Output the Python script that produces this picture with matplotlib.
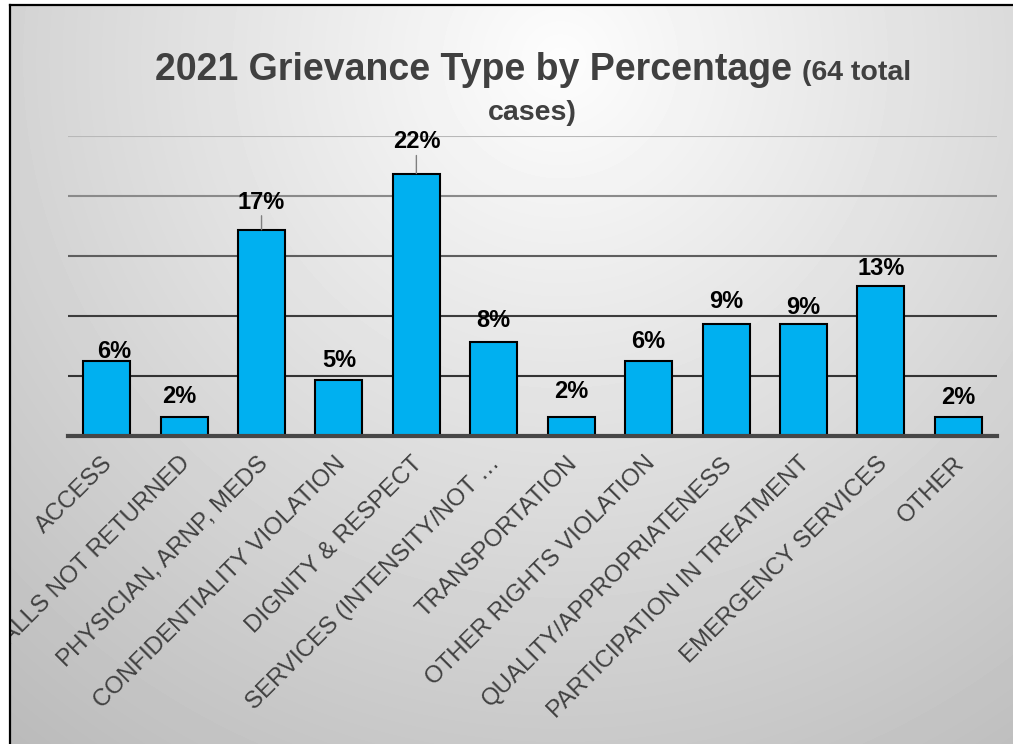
import numpy as np
import matplotlib
matplotlib.use("Agg")
import matplotlib.pyplot as plt
from matplotlib.patches import Rectangle
from matplotlib.lines import Line2D

plt.rcParams['font.family'] = ['Liberation Sans', 'DejaVu Sans']

# data
categories = ['ACCESS', 'CALLS NOT RETURNED', 'PHYSICIAN, ARNP, MEDS',
              'CONFIDENTIALITY VIOLATION', 'DIGNITY & RESPECT',
              'SERVICES (INTENSITY/NOT \u2026', 'TRANSPORTATION',
              'OTHER RIGHTS VIOLATION', 'QUALITY/APPROPRIATENESS',
              'PARTICIPATION IN TREATMENT', 'EMERGENCY SERVICES', 'OTHER']
cases = [4, 1, 11, 3, 14, 5, 1, 4, 6, 6, 8, 1]
total_cases = 64
percent = [100.0 * c / total_cases for c in cases]

# hand-placed data label offsets (pixels) and which ones have leader lines
label_dx = [7, -5, 0, 0, 0, 0, 0, 0, 0, 0, 0, 0]
label_gap = [3, 14, 21, 13, 25, 15, 19, 13, 15, 10, 11, 13]
leader = [False, False, True, False, True, False, False, False, False, False, False, False]

W, H = 1013, 744
fig = plt.figure(figsize=(W / 100, H / 100), dpi=100)
fig.patch.set_facecolor('white')

# slide background: soft radial gradient
bg = fig.add_axes([0, 0, 1, 1], zorder=-1)
yy, xx = np.mgrid[0:H, 0:W]
dist = np.hypot(xx - 560, yy - 60)
shade = np.clip(253 - 0.076 * dist, 180, 255) / 255.0
bg.imshow(shade, cmap='gray', vmin=0, vmax=1, extent=(0, W, H, 0), aspect='auto')
bg.set_xlim(0, W)
bg.set_ylim(H, 0)
bg.axis('off')

# main chart
left, right, top, bottom = 68, 997, 136, 436
ax = fig.add_axes([left / W, 1 - bottom / H, (right - left) / W, (bottom - top) / H])
ax.set_facecolor('none')
x = np.arange(len(categories))
ax.bar(x, percent, width=0.607, color='#00B0F0', edgecolor='black', linewidth=1.5, zorder=3)
ax.set_xlim(-0.5, len(categories) - 0.5)
ax.set_ylim(0, 25)
ax.set_yticks([0, 5, 10, 15, 20, 25])
ax.yaxis.grid(True, linewidth=1.5, zorder=0)
ax.set_axisbelow(True)
grid_colors = ['none', '#333333', '#3c3c3c', '#5e5e5e', '#8a8a8a', '#b8b8b8']
for gl, c in zip(ax.yaxis.get_gridlines(), grid_colors):
    gl.set_color(c)
ax.tick_params(left=False, labelleft=False, bottom=False, labelbottom=False)
for s in ['left', 'right', 'top']:
    ax.spines[s].set_visible(False)
ax.spines['bottom'].set_color('#474747')
ax.spines['bottom'].set_linewidth(3)
ax.spines['bottom'].set_zorder(4)

# category labels
for i, name in enumerate(categories):
    ax.annotate(name, xy=(i, 0), xycoords='data', xytext=(3, -24),
                textcoords='offset pixels', rotation=45, rotation_mode='anchor',
                ha='right', va='center', fontsize=17.3, color='#404040',
                annotation_clip=False)

# data labels (rounded half up, like the spreadsheet)
for i, p in enumerate(percent):
    ax.annotate(f'{int(p + 0.5)}%', xy=(i, p), xytext=(label_dx[i], label_gap[i]),
                textcoords='offset pixels', ha='center', va='baseline',
                fontsize=17, fontweight='bold', color='black', zorder=5)
    if leader[i]:
        ax.annotate('', xy=(i, p), xytext=(0, label_gap[i] - 7),
                    textcoords='offset pixels',
                    arrowprops=dict(arrowstyle='-', color='#7f7f7f', lw=1,
                                    shrinkA=0, shrinkB=0))

# title: mixed sizes, centred
renderer = fig.canvas.get_renderer()
t1 = fig.text(0, 1 - 80 / H, '2021 Grievance Type by Percentage ', fontsize=27,
              fontweight='bold', color='#404040', va='baseline', ha='left')
t2 = fig.text(0, 1 - 80 / H, '(64 total', fontsize=20.5,
              fontweight='bold', color='#404040', va='baseline', ha='left')
w1 = t1.get_window_extent(renderer).width
w2 = t2.get_window_extent(renderer).width
x0 = 533 - (w1 + w2) / 2
t1.set_x(x0 / W)
t2.set_x((x0 + w1) / W)
fig.text(532 / W, 1 - 120 / H, 'cases)', fontsize=20.5, fontweight='bold',
         color='#404040', va='baseline', ha='center')

# slide frame (left and top edges) with white margin outside
fig.add_artist(Rectangle((0, 0), 10 / W, 1, transform=fig.transFigure,
                         facecolor='white', edgecolor='none', zorder=10))
fig.add_artist(Rectangle((0, 1 - 5 / H), 1, 5 / H, transform=fig.transFigure,
                         facecolor='white', edgecolor='none', zorder=10))
fig.add_artist(Line2D([10 / W, 10 / W], [0, 1 - 5 / H], transform=fig.transFigure,
                      color='black', lw=1.6, zorder=11))
fig.add_artist(Line2D([10 / W, 1], [1 - 5 / H, 1 - 5 / H], transform=fig.transFigure,
                      color='black', lw=1.6, zorder=11))

fig.savefig('out.png', dpi=100)
